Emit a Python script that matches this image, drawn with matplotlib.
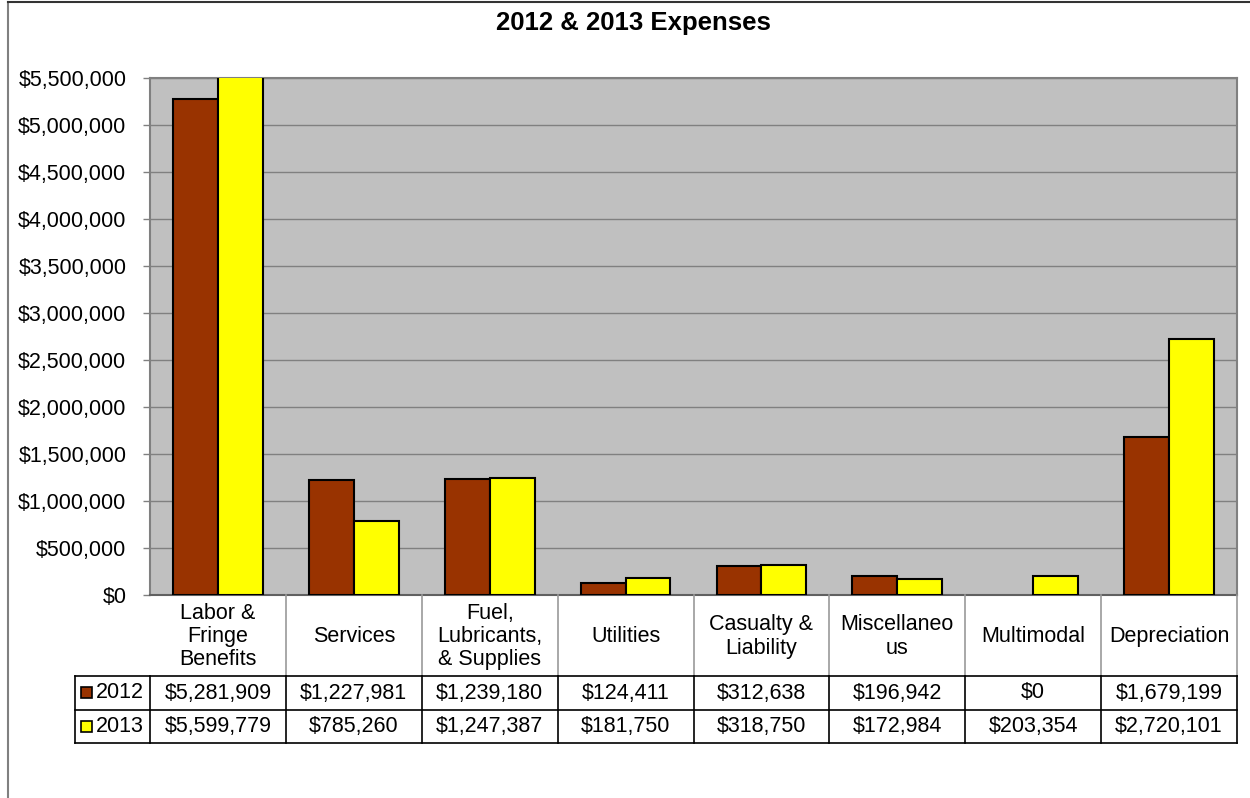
import matplotlib
matplotlib.use("Agg")
import matplotlib.pyplot as plt
import numpy as np
from matplotlib.lines import Line2D
from matplotlib.patches import Rectangle

plt.rcParams['font.family'] = ['Liberation Sans', 'DejaVu Sans']

categories = ["Labor &\nFringe\nBenefits", "Services", "Fuel,\nLubricants,\n& Supplies",
              "Utilities", "Casualty &\nLiability", "Miscellaneo\nus", "Multimodal", "Depreciation"]
series_names = ["2012", "2013"]
values_2012 = [5281909, 1227981, 1239180, 124411, 312638, 196942, 0, 1679199]
values_2013 = [5599779, 785260, 1247387, 181750, 318750, 172984, 203354, 2720101]
yticks = list(range(0, 5500001, 500000))
title = "2012 & 2013 Expenses"

colors = ["#993300", "#FFFF00"]

W, H = 1250, 798
fig = plt.figure(figsize=(W / 100, H / 100), dpi=100)

def fx(px):
    return px / W

def fy(py):
    return 1 - py / H

L, R, T, B = 150, 1237, 78, 595
ax = fig.add_axes([fx(L), fy(B), fx(R) - fx(L), fy(T) - fy(B)])
ax.set_facecolor("#C0C0C0")
n = len(categories)
x = np.arange(n) + 0.5
bw = 0.33
for vals, off, col in [(values_2012, -bw / 2, colors[0]), (values_2013, bw / 2, colors[1])]:
    bars = ax.bar(x + off, vals, bw, color=col, edgecolor="black", linewidth=1.5, zorder=3)
    for b, v in zip(bars, vals):
        if v == 0:
            b.set_linewidth(0)
ax.set_xlim(0, n)
ax.set_ylim(0, 5500000)
ax.set_yticks(yticks)
ax.set_yticklabels([f"${v:,.0f}" for v in yticks], fontsize=15.5)
ax.set_xticks([])
ax.grid(axis="y", color="#808080", linewidth=1, zorder=0)
ax.tick_params(axis="y", length=5, width=1, color="#808080", pad=12)
for s in ["top", "right", "left"]:
    ax.spines[s].set_color("#808080")
    ax.spines[s].set_linewidth(1.5)
ax.spines["bottom"].set_color("#606060")
ax.spines["bottom"].set_linewidth(1.5)

fig.text(fx(633), fy(23), title, ha="center", va="center", fontsize=18.5, fontweight="bold")

# outer border
fig.add_artist(Line2D([fx(8), fx(8)], [fy(2), fy(798)], color="#808080", lw=1.5))
fig.add_artist(Line2D([fx(8), fx(1250)], [fy(2), fy(2)], color="#333333", lw=1.5))

# data table
colw = (R - L) / n
bounds = [L + i * colw for i in range(n + 1)]
r0, r1, r2, r3 = 595, 676, 710, 743
for i, bx in enumerate(bounds):
    if i > 0:
        fig.add_artist(Line2D([fx(bx), fx(bx)], [fy(r0), fy(r1)], color="#999999", lw=1.2))
    fig.add_artist(Line2D([fx(bx), fx(bx)], [fy(r1), fy(r3)], color="black", lw=1.2))
fig.add_artist(Line2D([fx(75), fx(75)], [fy(r1), fy(r3)], color="black", lw=1.2))
for ry in (r1, r2, r3):
    fig.add_artist(Line2D([fx(75), fx(R)], [fy(ry), fy(ry)], color="black", lw=1.2))

for i, c in enumerate(categories):
    fig.text(fx(bounds[i] + colw / 2), fy((r0 + r1) / 2 + 1), c, ha="center", va="center",
             fontsize=15.5, linespacing=1.15)
for vals, (ya, yb) in zip([values_2012, values_2013], [(r1, r2), (r2, r3)]):
    for i, v in enumerate(vals):
        fig.text(fx(bounds[i] + colw / 2), fy((ya + yb) / 2), f"${v:,.0f}", ha="center",
                 va="center", fontsize=15.5)
for name, col, (ya, yb) in zip(series_names, colors, [(r1, r2), (r2, r3)]):
    cy = (ya + yb) / 2
    fig.add_artist(Rectangle((fx(81), fy(cy + 5)), fx(11), fy(0) - fy(11),
                             facecolor=col, edgecolor="black", lw=1.2))
    fig.text(fx(96), fy(cy), name, ha="left", va="center", fontsize=15.5)

fig.savefig("out.png", dpi=100, facecolor="white")
